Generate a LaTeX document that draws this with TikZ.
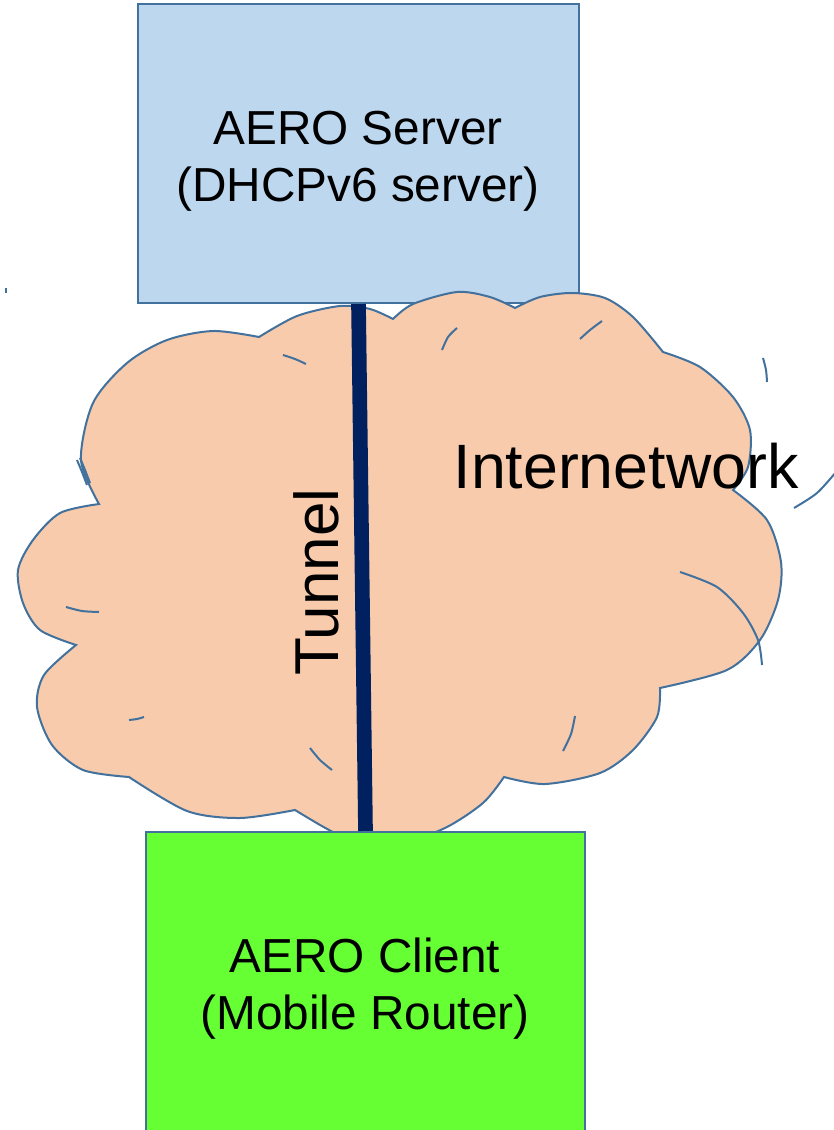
\documentclass[tikz,border=0pt]{standalone}
\usepackage{fontspec}
\setmainfont{Liberation Sans}
\definecolor{edgeblue}{HTML}{41719C}
\definecolor{serverfill}{HTML}{BDD7EE}
\definecolor{cloudfill}{HTML}{F8CBAD}
\definecolor{clientfill}{HTML}{66FF33}
\definecolor{tunnelc}{HTML}{002060}
\begin{document}
\begin{tikzpicture}[x=0.75pt,y=-0.75pt,
  boxstyle/.style={draw=edgeblue, line width=1.6pt, rectangle, inner sep=0pt},
  boxtext/.style={align=center, inner sep=0pt, font=\fontsize{35.8}{42.75}\selectfont},
  cloudstyle/.style={draw=edgeblue, fill=cloudfill, line width=1.5pt, line join=miter},
  detail/.style={draw=edgeblue, line width=1.5pt},
  tunnelline/.style={draw=tunnelc, line width=11pt},
  bigtext/.style={font=\fontsize{47}{56}\selectfont, inner sep=0pt}]
\useasboundingbox (0,0) rectangle (833,1130);

% server box
\node[boxstyle, fill=serverfill, minimum width=330.75pt, minimum height=224.25pt]
  (server) at (358.5,153.5) {};

% cloud
\path[cloudstyle]
  plot[smooth] coordinates {(99,504) (81,460) (93,403) (127,363) (167,340) (213,331) (259,337)}
  -- plot[smooth] coordinates {(259,337) (297,316) (340,306) (370,309) (393,319)}
  -- plot[smooth] coordinates {(393,319) (413,304) (457,292) (490,297) (515,308)}
  -- plot[smooth] coordinates {(515,308) (540,297) (572,293) (605,298) (633,317) (663,352)}
  -- plot[smooth] coordinates {(663,352) (700,367) (733,397) (750,430) (748,467) (733,490)}
  -- plot[smooth] coordinates {(733,490) (767,520) (781,562) (778,600) (760,640) (727,670) (660,688)}
  -- plot[smooth] coordinates {(660,688) (657,717) (633,750) (600,773) (545,784) (504,777)}
  -- plot[smooth] coordinates {(504,777) (483,803) (445,828) (400,843) (360,840) (333,832) (295,810)}
  -- plot[smooth] coordinates {(295,810) (240,818) (187,811) (129,777)}
  -- plot[smooth] coordinates {(129,777) (83,770) (52,745) (37,707) (44,675) (76,645)}
  -- plot[smooth] coordinates {(76,645) (40,630) (23,603) (18,570) (33,540) (60,513) (99,504)}
  -- cycle;

% cloud detail strokes
\draw[detail] plot[smooth] coordinates {(283,355) (295,359) (306,364)};
\draw[detail] plot[smooth] coordinates {(442,350) (448,337) (457,328)};
\draw[detail] plot[smooth] coordinates {(580,339) (590,330) (602,321)};
\draw[detail] plot[smooth] coordinates {(763,358) (766,370) (767,382)};
\draw[detail] plot[smooth] coordinates {(836,472) (817,493) (794,508)};
\draw[detail] plot[smooth] coordinates {(77,460) (82,472) (87,485)};
\draw[detail] plot[smooth] coordinates {(80,458) (85,470) (90,483)};
\draw[detail] plot[smooth] coordinates {(66,607) (82,611) (99,612)};
\draw[detail] plot[smooth] coordinates {(129,720) (137,719) (144,717)};
\draw[detail] plot[smooth] coordinates {(310,748) (320,760) (332,770)};
\draw[detail] plot[smooth] coordinates {(575,716) (571,734) (563,751)};
\draw[detail] plot[smooth] coordinates {(680,572) (717,587) (743,613) (758,640) (762,665)};
\draw[detail, line width=1pt] (6,288) -- (6,293);

% client box
\node[boxstyle, fill=clientfill, minimum width=329.25pt, minimum height=231pt]
  (client) at (365.5,986) {};

% tunnel
\draw[tunnelline] (server.south) -- (client.north);

% labels
\node[boxtext] (servertext) at (358,161) {AERO Server\\(DHCPv6 server)};
\node[boxtext] (clienttext) at (365,989) {AERO Client\\(Mobile Router)};
\node[bigtext, anchor=base] (inet) at (626,488) {Internetwork};
\node[bigtext, font=\fontsize{46.5}{56}\selectfont, rotate=90, anchor=base] (tlabel) at (338,582) {Tunnel};
\end{tikzpicture}
\end{document}
